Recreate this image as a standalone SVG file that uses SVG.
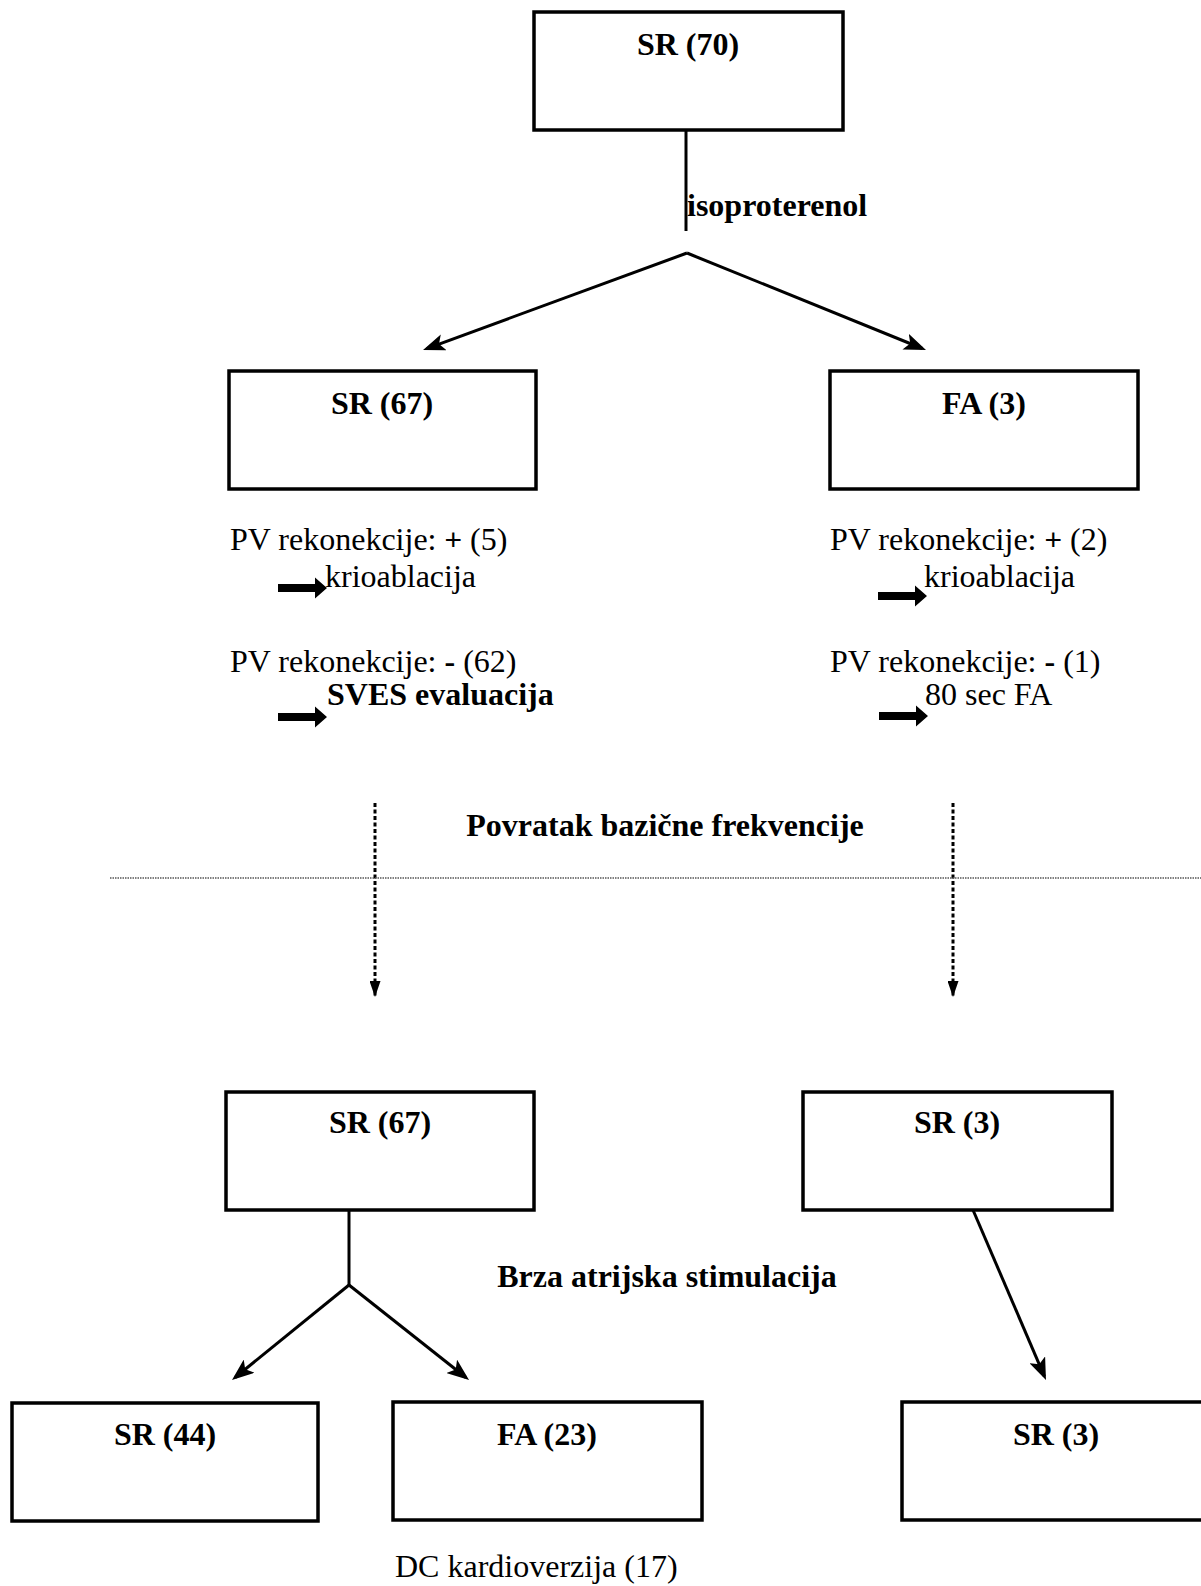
<svg xmlns="http://www.w3.org/2000/svg" width="1201" height="1586" viewBox="0 0 1201 1586">
<style>
  .box { fill: #fff; stroke: #000; stroke-width: 3.5; }
  .lbl { font-family: "Liberation Serif", "Times New Roman", serif; font-size: 32px; font-weight: bold; fill: #000; text-anchor: middle; }
  .txt { font-family: "Liberation Serif", "Times New Roman", serif; font-size: 32px; fill: #000; }
  .bold { font-weight: bold; }
  .conn { stroke: #000; stroke-width: 3; fill: none; }
  .dot { stroke: #000; stroke-width: 3; fill: none; stroke-dasharray: 4 2.5; }
  .sep { stroke: #555; stroke-width: 1.3; fill: none; stroke-dasharray: 1.5 1; }
  .blk { fill: #000; }
</style>
<defs>
  <marker id="ah" viewBox="0 0 22 17" refX="18" refY="8.5" markerWidth="22" markerHeight="17" markerUnits="userSpaceOnUse" orient="auto">
    <path d="M0,0 L22,8.5 L0,17 L5,8.5 z" fill="#000"/>
  </marker>
  <marker id="ahd" viewBox="0 0 16 11" refX="16" refY="5.5" markerWidth="16" markerHeight="11" markerUnits="userSpaceOnUse" orient="auto">
    <path d="M0,0 L16,5.5 L0,11 z" fill="#000"/>
  </marker>
  <path id="blockArrow" d="M0,-4 L37,-4 L37,-10.5 L49,0 L37,10.5 L37,4 L0,4 z"/>
</defs>

<g id="connectors">
  <line class="conn" x1="686" y1="130" x2="686" y2="231"/>
  <line class="conn" x1="687" y1="253" x2="426.8" y2="348.6" marker-end="url(#ah)"/>
  <line class="conn" x1="687" y1="253" x2="922.3" y2="348.5" marker-end="url(#ah)"/>
  <line class="conn" x1="349" y1="1210" x2="349" y2="1285"/>
  <line class="conn" x1="349" y1="1285" x2="235.1" y2="1377.5" marker-end="url(#ah)"/>
  <line class="conn" x1="349" y1="1285" x2="465.9" y2="1377.5" marker-end="url(#ah)"/>
  <line class="conn" x1="973" y1="1210" x2="1044.4" y2="1376.3" marker-end="url(#ah)"/>
  <line class="dot" x1="375" y1="803" x2="375" y2="997" marker-end="url(#ahd)"/>
  <line class="dot" x1="953" y1="803" x2="953" y2="997" marker-end="url(#ahd)"/>
  <line class="sep" x1="110" y1="878" x2="1201" y2="878"/>
</g>

<g id="n-top">
  <rect class="box" x="534" y="12" width="309" height="118"/>
  <text class="lbl" x="688" y="55">SR (70)</text>
</g>
<text id="t-iso" class="txt bold" x="687" y="216">isoproterenol</text>

<g id="n-sr67a">
  <rect class="box" x="229" y="371" width="307" height="118"/>
  <text class="lbl" x="382" y="414">SR (67)</text>
</g>
<g id="n-fa3">
  <rect class="box" x="830" y="371" width="308" height="118"/>
  <text class="lbl" x="984" y="414">FA (3)</text>
</g>

<g id="notes-left">
  <text class="txt" x="230" y="550">PV rekonekcije: <tspan font-family="Liberation Sans, Arial, sans-serif" font-size="30">+</tspan> (5)</text>
  <use href="#blockArrow" class="blk" x="278" y="588"/>
  <text class="txt" x="325" y="587">krioablacija</text>
  <text class="txt" x="230" y="672">PV rekonekcije: <tspan font-weight="bold">-</tspan> (62)</text>
  <use href="#blockArrow" class="blk" x="278" y="717"/>
  <text class="txt bold" x="327" y="705">SVES evaluacija</text>
</g>
<g id="notes-right">
  <text class="txt" x="830" y="550">PV rekonekcije: <tspan font-family="Liberation Sans, Arial, sans-serif" font-size="30">+</tspan> (2)</text>
  <use href="#blockArrow" class="blk" x="878" y="596"/>
  <text class="txt" x="924" y="587">krioablacija</text>
  <text class="txt" x="830" y="672">PV rekonekcije: <tspan font-weight="bold">-</tspan> (1)</text>
  <use href="#blockArrow" class="blk" x="879" y="716"/>
  <text class="txt" x="925" y="705">80 sec FA</text>
</g>

<text id="t-povratak" class="lbl" x="665" y="836">Povratak bazične frekvencije</text>

<g id="n-sr67b">
  <rect class="box" x="226" y="1092" width="308" height="118"/>
  <text class="lbl" x="380" y="1133">SR (67)</text>
</g>
<g id="n-sr3a">
  <rect class="box" x="803" y="1092" width="309" height="118"/>
  <text class="lbl" x="957" y="1133">SR (3)</text>
</g>

<text id="t-brza" class="lbl" x="667" y="1287">Brza atrijska stimulacija</text>

<g id="n-sr44">
  <rect class="box" x="12" y="1403" width="306" height="118"/>
  <text class="lbl" x="165" y="1445">SR (44)</text>
</g>
<g id="n-fa23">
  <rect class="box" x="393" y="1402" width="309" height="118"/>
  <text class="lbl" x="547" y="1445">FA (23)</text>
</g>
<g id="n-sr3b">
  <rect class="box" x="902" y="1402" width="309" height="118"/>
  <text class="lbl" x="1056" y="1445">SR (3)</text>
</g>

<text id="t-dc" class="txt" x="395" y="1577">DC kardioverzija (17)</text>
</svg>
